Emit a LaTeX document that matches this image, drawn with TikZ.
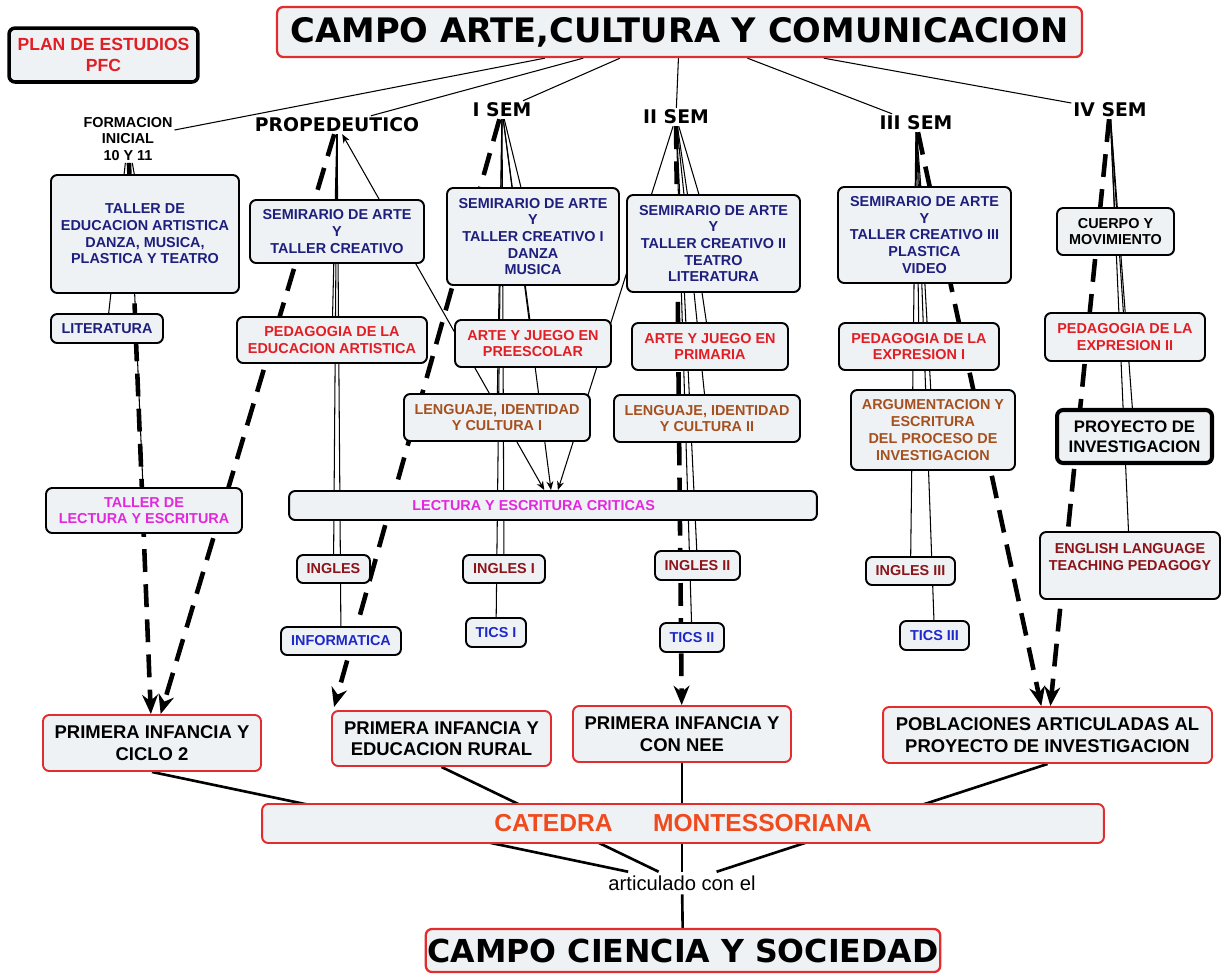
\documentclass[tikz,border=0pt]{standalone}
\usepackage{fontspec}
\setmainfont{Liberation Sans}
\newfontfamily\titrefont{DejaVu Sans}
\usetikzlibrary{arrows.meta,backgrounds,calc}

\definecolor{fond}{RGB}{238,242,245}
\definecolor{rouge}{RGB}{225,30,35}
\definecolor{marine}{RGB}{30,30,125}
\definecolor{brun}{RGB}{165,80,30}
\definecolor{bordeaux}{RGB}{140,20,25}
\definecolor{bleu}{RGB}{30,40,200}
\definecolor{rose}{RGB}{225,40,220}
\definecolor{orange2}{RGB}{240,75,30}
\definecolor{bordrouge}{RGB}{225,45,45}

\begin{document}
\begin{tikzpicture}[x=0.02cm,y=-0.02cm]
% définition des styles
\tikzstyle{boite}=[rectangle,rounded corners=3.5pt,draw=black,line width=1.1pt,fill=fond,align=center,inner sep=1pt,font=\fontsize{8.2}{9.5}\selectfont\bfseries]
\tikzstyle{cadre}=[boite,draw=bordrouge,font=\fontsize{10.5}{12.2}\selectfont\bfseries]
\tikzstyle{semestre}=[inner sep=1pt,font=\titrefont\fontsize{10.7}{12}\selectfont\bfseries]
\tikzstyle{lien}=[line width=0.6pt]
\tikzstyle{fleche}=[line width=0.6pt,-{Stealth[length=5pt,width=4pt]}]
\tikzstyle{fleches}=[line width=0.6pt,{Stealth[length=5pt,width=4pt]}-{Stealth[length=5pt,width=4pt]}]
\tikzstyle{grosse}=[line width=2.6pt,dash pattern=on 13pt off 7pt,-{Stealth[length=11pt,width=9pt]}]
\tikzstyle{base}=[line width=1.5pt]
\useasboundingbox (0,0) rectangle (1227,975);
% les nœuds du haut
\node[boite,draw=bordrouge,line width=1.3pt,minimum width=16.1cm,minimum height=1cm,font=\titrefont\fontsize{19.2}{22}\selectfont\bfseries] (CA) at (679.5,32) {CAMPO ARTE,CULTURA Y COMUNICACION};
\node[boite,line width=2pt,minimum width=3.78cm,minimum height=1.08cm,text=rouge,font=\fontsize{10}{11.5}\selectfont\bfseries] (PF) at (103.5,55) {PLAN DE ESTUDIOS\\PFC};
\node[align=center,inner sep=1pt,font=\fontsize{8.2}{9.5}\selectfont\bfseries] (FI) at (128,139) {FORMACION\\INICIAL\\10 Y 11};
\node[semestre] (PR) at (337,125) {PROPEDEUTICO};
\node[semestre] (S1) at (502,110) {I SEM};
\node[semestre] (S2) at (676,117) {II SEM};
\node[semestre] (S3) at (916,123) {III SEM};
\node[semestre] (S4) at (1110,110) {IV SEM};
% formacion inicial
\node[boite,text=marine,minimum width=3.76cm,minimum height=2.36cm] (TEA) at (145,234) {TALLER DE\\EDUCACION ARTISTICA\\DANZA, MUSICA,\\PLASTICA Y TEATRO};
\node[boite,text=marine,minimum width=2.24cm,minimum height=0.58cm] (LIT) at (107,328.5) {LITERATURA};
\node[boite,text=rose,minimum width=3.92cm,minimum height=0.9cm] (TLE) at (144,510.5) {TALLER DE\\LECTURA Y ESCRITURA};
% propedeutico
\node[boite,text=marine,minimum width=3.48cm,minimum height=1.26cm] (SP) at (337,231.5) {SEMIRARIO DE ARTE\\Y\\TALLER CREATIVO};
\node[boite,text=rouge,minimum width=3.8cm,minimum height=0.92cm] (PEA) at (332,340) {PEDAGOGIA DE LA\\EDUCACION ARTISTICA};
\node[boite,text=bordeaux,minimum width=1.46cm,minimum height=0.56cm] (ING) at (333.5,569) {INGLES};
\node[boite,text=bleu,minimum width=2.4cm,minimum height=0.56cm] (INF) at (341,641) {INFORMATICA};
% I sem
\node[boite,text=marine,minimum width=3.44cm,minimum height=1.94cm] (SA1) at (533,236.5) {SEMIRARIO DE ARTE\\Y\\TALLER CREATIVO I\\DANZA\\MUSICA};
\node[boite,text=rouge,minimum width=3.12cm,minimum height=0.94cm] (AJ1) at (533,343.5) {ARTE Y JUEGO EN\\PREESCOLAR};
\node[boite,text=brun,minimum width=3.72cm,minimum height=0.94cm] (LC1) at (497,417.5) {LENGUAJE, IDENTIDAD\\Y CULTURA I};
\node[boite,text=rose,minimum width=10.56cm,minimum height=0.58cm] (LEC) at (553,505.5) {LECTURA Y ESCRITURA CRITICAS\hspace{22pt}};
\node[boite,text=bordeaux,minimum width=1.64cm,minimum height=0.56cm] (IN1) at (504,569) {INGLES I};
\node[boite,text=bleu,minimum width=1.2cm,minimum height=0.58cm] (TI1) at (496,632.5) {TICS I};
% II sem
\node[boite,text=marine,minimum width=3.46cm,minimum height=1.94cm] (SA2) at (713.5,243.5) {SEMIRARIO DE ARTE\\Y\\TALLER CREATIVO II\\TEATRO\\LITERATURA};
\node[boite,text=rouge,minimum width=3.12cm,minimum height=0.94cm] (AJ2) at (710,346.5) {ARTE Y JUEGO EN\\PRIMARIA};
\node[boite,text=brun,minimum width=3.72cm,minimum height=0.94cm] (LC2) at (707,418.5) {LENGUAJE, IDENTIDAD\\Y CULTURA II};
\node[boite,text=bordeaux,minimum width=1.7cm,minimum height=0.58cm] (IN2) at (697.5,565.5) {INGLES II};
\node[boite,text=bleu,minimum width=1.28cm,minimum height=0.58cm] (TI2) at (692,637.5) {TICS II};
% III sem
\node[boite,text=marine,minimum width=3.46cm,minimum height=1.92cm] (SA3) at (924.5,235) {SEMIRARIO DE ARTE\\Y\\TALLER CREATIVO III\\PLASTICA\\VIDEO};
\node[boite,text=rouge,minimum width=3.2cm,minimum height=0.94cm] (PE1) at (919,346.5) {PEDAGOGIA DE LA\\EXPRESION I};
\node[boite,text=brun,minimum width=3.28cm,minimum height=1.6cm] (ARG) at (933,430) {ARGUMENTACION Y\\ESCRITURA\\DEL PROCESO DE\\INVESTIGACION};
\node[boite,text=bordeaux,minimum width=1.78cm,minimum height=0.56cm] (IN3) at (910.5,571) {INGLES III};
\node[boite,text=bleu,minimum width=1.38cm,minimum height=0.58cm] (TI3) at (934.5,635.5) {TICS III};
% IV sem
\node[boite,minimum width=2.34cm,minimum height=0.94cm] (CM) at (1115.5,231.5) {CUERPO Y\\MOVIMIENTO};
\node[boite,text=rouge,minimum width=3.2cm,minimum height=0.96cm] (PE2) at (1125,337) {PEDAGOGIA DE LA\\EXPRESION II};
\node[boite,line width=2.3pt,minimum width=3.1cm,minimum height=1.06cm,font=\fontsize{9.5}{11.3}\selectfont\bfseries] (PI) at (1134.5,436.5) {PROYECTO DE\\INVESTIGACION};
\node[boite,text=bordeaux,minimum width=3.6cm,minimum height=1.34cm] (EL) at (1130,565.5) {ENGLISH LANGUAGE\\TEACHING PEDAGOGY\\\mbox{}};
% les poblaciones
\node[cadre,minimum width=4.36cm,minimum height=1.12cm] (PC) at (152,743) {PRIMERA INFANCIA Y\\CICLO 2};
\node[cadre,minimum width=4.38cm,minimum height=1.1cm] (PR2) at (441.5,738.5) {PRIMERA INFANCIA Y\\EDUCACION RURAL};
\node[cadre,minimum width=4.36cm,minimum height=1.12cm] (PN) at (682,734) {PRIMERA INFANCIA Y\\CON NEE};
\node[cadre,minimum width=6.58cm,minimum height=1.12cm] (PA) at (1047.5,735) {POBLACIONES ARTICULADAS AL\\PROYECTO DE INVESTIGACION};
\node[cadre,text=orange2,minimum width=16.84cm,minimum height=0.78cm,font=\fontsize{14}{16}\selectfont\bfseries] (CAT) at (683,823.5) {CATEDRA\hspace{23pt}MONTESSORIANA};
\node[inner sep=2pt,font=\fontsize{11.5}{13}\selectfont] (ART) at (682,883) {articulado con el};
\node[cadre,line width=1.3pt,minimum width=10.16cm,minimum height=0.86cm,font=\titrefont\fontsize{18}{21}\selectfont\bfseries] (CS) at (683,950.5) {CAMPO CIENCIA Y SOCIEDAD};
% les liens
\begin{scope}[on background layer]
\foreach \s in {FI,PR,S1,S2,S3,S4} \draw[lien] (CA) -- (\s);
\foreach \b in {TEA,LIT,TLE} \draw[lien] (FI) -- (\b);
\foreach \b in {SP,PEA,ING,INF} \draw[lien] (PR) -- (\b);
\foreach \b in {SA1,AJ1,LC1,IN1,TI1} \draw[lien] (S1) -- (\b);
\foreach \b in {SA2,AJ2,LC2,IN2,TI2} \draw[lien] (S2) -- (\b);
\foreach \b in {SA3,PE1,ARG,IN3,TI3} \draw[lien] (S3) -- (\b);
\foreach \b in {CM,PE2,PI,EL} \draw[lien] (S4) -- (\b);
\draw[fleches] (PR) -- (LEC);
\draw[fleche] (S1) -- (LEC);
\draw[fleche] (S2) -- (LEC);
% les flèches pointillées
\draw[grosse] (FI) -- (PC);
\draw[grosse] (PR) -- (PC);
\draw[grosse] (S1) -- ($(PR2.north west)+(3,-3)$);
\draw[grosse] (S2) -- (PN);
\draw[grosse] (S3) -- (PA);
\draw[grosse] (S4) -- (PA);
% le bas
\foreach \p in {PC,PR2,PN,PA} \draw[base] (\p.south) -- (ART);
\draw[base] (ART) -- (CS);
\end{scope}
\end{tikzpicture}
\end{document}
